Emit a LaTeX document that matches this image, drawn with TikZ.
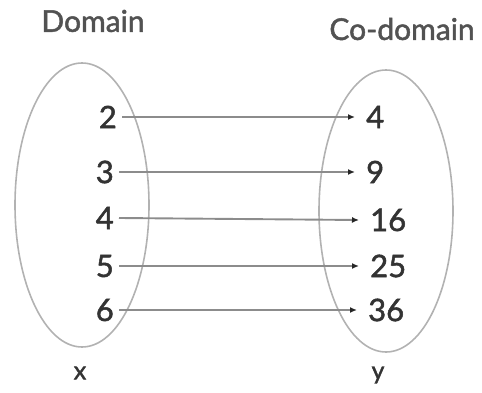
\documentclass[tikz,border=0pt]{standalone}
\usepackage{fontspec}
\setmainfont{Lato}[BoldFont={Lato},BoldFeatures={FakeBold=1.6}]
\usetikzlibrary{arrows.meta}
\begin{document}
\begin{tikzpicture}[x=1pt,y=-1pt,
  setring/.style={draw=black!30,line width=1.6pt},
  num/.style={font=\fontsize{31}{33}\selectfont\bfseries,text=black!80,inner sep=0pt},
  title/.style={font=\fontsize{30}{32}\selectfont\bfseries,text=black!68,inner sep=0pt},
  maparrow/.style={draw=black!45,line width=1.9pt,-{Latex[length=7pt,width=6pt,black!85]}}]
\useasboundingbox (0,0) rectangle (482,393);
% the two sets
\draw[setring] (82,205) ellipse [x radius=67,y radius=142];
\draw[setring] (386,211) ellipse [x radius=67,y radius=141];
% headings
\node[title] (dom) at (93,21) {Domain};
\node[title] (cod) at (402,29) {Co-domain};
% domain elements
\node[num,anchor=east] (a2) at (117,117) {2};
\node[num,anchor=east] (a3) at (114,172) {3};
\node[num,anchor=east] (a4) at (114,218) {4};
\node[num,anchor=east] (a5) at (114,266) {5};
\node[num,anchor=east] (a6) at (114,310) {6};
% co-domain elements
\node[num,anchor=west] (b4) at (366,117) {4};
\node[num,anchor=west] (b9) at (366,172) {9};
\node[num,anchor=west] (b16) at (370,220) {16};
\node[num,anchor=west] (b25) at (370,266) {25};
\node[num,anchor=west] (b36) at (368,310) {36};
% variable names
\node[num,font=\fontsize{25}{27}\selectfont\bfseries] (vx) at (80,373) {x};
\node[num,font=\fontsize{25}{27}\selectfont\bfseries] (vy) at (378,375) {y};
% mapping x -> x^2
\foreach \s/\t in {a2/b4,a3/b9,a4/b16,a5/b25,a6/b36}
  \draw[maparrow] ([xshift=5pt]\s.east) -- ([xshift=-11pt]\t.west);
\end{tikzpicture}
\end{document}
